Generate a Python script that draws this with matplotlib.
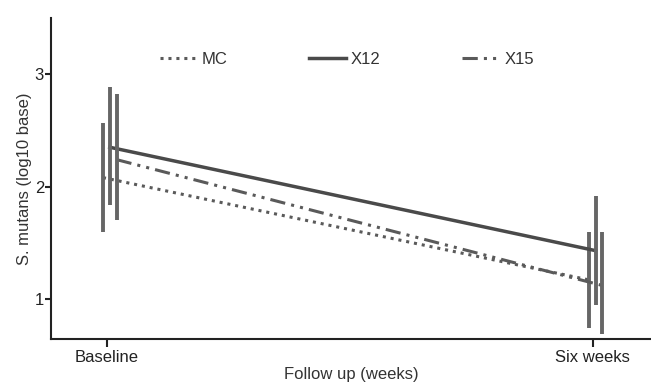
import numpy as np
import matplotlib
matplotlib.use("Agg")
import matplotlib.pyplot as plt

plt.rcParams['font.family'] = ['Liberation Sans', 'DejaVu Sans']

# data
timepoints = ["Baseline", "Six weeks"]
groups = ["MC", "X12", "X15"]
mc_mean = [2.08, 1.17]
mc_lo = [1.60, 0.74]
mc_hi = [2.57, 1.60]
x12_mean = [2.35, 1.43]
x12_lo = [1.84, 0.95]
x12_hi = [2.89, 1.92]
x15_mean = [2.24, 1.12]
x15_lo = [1.70, 0.69]
x15_hi = [2.82, 1.60]

means = [mc_mean, x12_mean, x15_mean]
los = [mc_lo, x12_lo, x15_lo]
his = [mc_hi, x12_hi, x15_hi]
styles = [(0, (1, 1.6)), '-', (0, (5, 2, 1, 2, 1, 2))]
offsets = [-0.008, 0.006, 0.02]
widths = [2.2, 2.5, 2.2]
colors = ['#5a5a5a', '#4a4a4a', '#5a5a5a']

fig = plt.figure(figsize=(6.51, 3.87), dpi=100)
ax = fig.add_axes([51/651, 48/387, 1 - 51/651, (339 - 18)/387])

x = np.arange(len(timepoints))
for m, lo, hi, ls, off, lw, c, name in zip(means, los, his, styles, offsets, widths, colors, groups):
    xx = x + off
    m = np.array(m)
    err = [m - np.array(lo), np.array(hi) - m]
    ax.plot(xx, m, linestyle=ls, color=c, lw=lw, label=name)
    ax.errorbar(xx, m, yerr=err, fmt='none', ecolor='#666666', elinewidth=2.8, capsize=0)

ax.set_xlim(-0.115, 1.12)
ax.set_ylim(0.644, 3.5)
ax.set_xticks(x)
ax.set_xticklabels(timepoints)
ax.set_yticks([1, 2, 3])
ax.spines['top'].set_visible(False)
ax.spines['right'].set_visible(False)
for s in ['left', 'bottom']:
    ax.spines[s].set_linewidth(1.5)
    ax.spines[s].set_color('#222222')
ax.tick_params(axis='x', length=6, width=1.5, labelsize=12, colors='#222222', pad=2)
ax.tick_params(axis='y', length=4, width=1.5, labelsize=12, colors='#222222', pad=1)
ax.set_xlabel("Follow up (weeks)", fontsize=12, color='#333333', labelpad=1)
ax.set_ylabel("S. mutans (log10 base)", fontsize=12, color='#333333', labelpad=2)

ax.legend(loc='upper left', bbox_to_anchor=(0.157, 0.94), ncol=3, frameon=False,
          fontsize=12, handlelength=2.2, handletextpad=0.3, columnspacing=4.9,
          labelcolor='#333333')

fig.savefig("out.png", dpi=100)
